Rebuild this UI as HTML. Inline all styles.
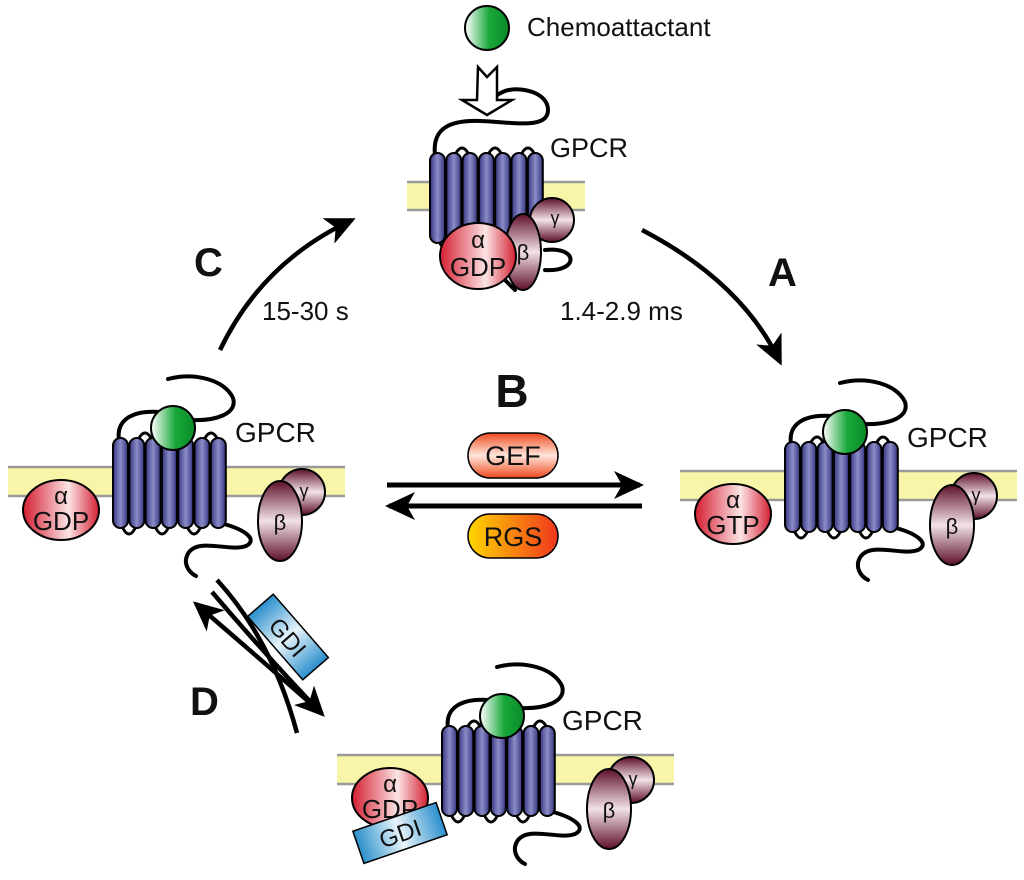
<!DOCTYPE html>
<html><head><meta charset="utf-8"><style>
html,body{margin:0;padding:0;background:#fff;}
svg{display:block;}
text{font-family:"Liberation Sans",Arial,sans-serif;fill:#111;}
</style></head><body>
<svg width="1024" height="880" viewBox="0 0 1024 880" xmlns="http://www.w3.org/2000/svg">
<defs>
<linearGradient id="hx" x1="0" x2="1" y1="0" y2="0"><stop offset="0" stop-color="#34347f"/><stop offset="0.5" stop-color="#8c8cc8"/><stop offset="1" stop-color="#34347f"/></linearGradient>
<linearGradient id="grn" x1="0" x2="1"><stop offset="0" stop-color="#ffffff"/><stop offset="0.55" stop-color="#19a83a"/><stop offset="1" stop-color="#0a8a28"/></linearGradient>
<linearGradient id="alp" x1="0" x2="1"><stop offset="0" stop-color="#d41e32"/><stop offset="0.6" stop-color="#fbe4e4"/><stop offset="1" stop-color="#d41e32"/></linearGradient>
<linearGradient id="bg" x1="0" x2="0" y1="0" y2="1"><stop offset="0" stop-color="#5e0f2a"/><stop offset="0.5" stop-color="#f2e2e6"/><stop offset="1" stop-color="#5e0f2a"/></linearGradient>
<linearGradient id="gef" x1="0" x2="0" y1="0" y2="1"><stop offset="0" stop-color="#ee4a1e"/><stop offset="0.5" stop-color="#ffe6dc"/><stop offset="1" stop-color="#ee4a1e"/></linearGradient>
<linearGradient id="rgs" x1="0" x2="1"><stop offset="0" stop-color="#ffd600"/><stop offset="1" stop-color="#f0361e"/></linearGradient>
<linearGradient id="gdi" x1="0" x2="1"><stop offset="0" stop-color="#2a8fcc"/><stop offset="0.5" stop-color="#e8f4fb"/><stop offset="1" stop-color="#2a8fcc"/></linearGradient>
<marker id="ah" markerWidth="10" markerHeight="10" refX="6" refY="5" orient="auto" markerUnits="userSpaceOnUse" viewBox="0 0 10 10"><path d="M0,0 L10,5 L0,10 L3,5 Z" fill="#000"/></marker>
<marker id="ahb" markerWidth="30" markerHeight="28" refX="26" refY="14" orient="auto" markerUnits="userSpaceOnUse"><path d="M0,0 L30,14 L0,28 L8,14 Z" fill="#000"/></marker>

<g id="helices">
  <g fill="#fff" stroke="#000" stroke-width="3">
    <path d="M137,442 Q145,424 153,442"/>
    <path d="M170,442 Q178,424 186,442"/>
    <path d="M203,442 Q211,424 219,442"/>
    <path d="M121,524 Q129,544 137,524"/>
    <path d="M154,524 Q162,544 170,524"/>
    <path d="M186,524 Q194,544 202,524"/>
  </g>
  <g fill="url(#hx)" stroke="#000" stroke-width="2">
    <rect x="113" y="438" width="15" height="90" rx="7.5"/>
    <rect x="129.3" y="438" width="15" height="90" rx="7.5"/>
    <rect x="145.6" y="438" width="15" height="90" rx="7.5"/>
    <rect x="161.9" y="438" width="15" height="90" rx="7.5"/>
    <rect x="178.2" y="438" width="15" height="90" rx="7.5"/>
    <rect x="194.5" y="438" width="15" height="90" rx="7.5"/>
    <rect x="210.8" y="438" width="15" height="90" rx="7.5"/>
  </g>
</g>

<g id="unit">
  <rect x="8" y="467" width="337" height="29" fill="#f8f4a8"/>
  <line x1="8" y1="467" x2="345" y2="467" stroke="#9a9a9a" stroke-width="2.5"/>
  <line x1="8" y1="496" x2="345" y2="496" stroke="#9a9a9a" stroke-width="2.5"/>
  <g fill="none" stroke="#000" stroke-width="4" stroke-linecap="round">
    <path d="M119,440 C116,420 132,410 160,412"/>
    <path d="M168,379 C195,372 225,380 233,398 C238,414 215,421 192,420"/>
    <path d="M224,524 C246,530 258,540 246,546 C230,552 200,538 189,552 C182,562 188,572 196,576"/>
  </g>
  <use href="#helices"/>
  <circle cx="173" cy="428" r="22" fill="url(#grn)" stroke="#000" stroke-width="2"/>
  <ellipse cx="61" cy="510" rx="38" ry="30" fill="url(#alp)" stroke="#000" stroke-width="2"/>
  <circle cx="302" cy="492" r="23" fill="url(#bg)" stroke="#000" stroke-width="2"/>
  <ellipse cx="280" cy="521" rx="22" ry="40" fill="url(#bg)" stroke="#000" stroke-width="2"/>
</g>
</defs>

<!-- TOP unit -->
<rect x="407" y="182" width="178" height="28" fill="#f8f4a8"/>
<line x1="407" y1="182" x2="585" y2="182" stroke="#9a9a9a" stroke-width="2.5"/>
<line x1="407" y1="210" x2="585" y2="210" stroke="#9a9a9a" stroke-width="2.5"/>
<g fill="none" stroke="#000" stroke-width="4" stroke-linecap="round">
  <path d="M435,155 C432,128 450,120 480,121 C512,122 548,130 548,110 C548,92 520,86 505,91 C495,95 490,100 492,106"/>
  <path d="M545,250 C578,246 580,272 545,270"/>
  <path d="M505,280 L515,290"/>
</g>
<use href="#helices" transform="translate(317,-285)"/>
<circle cx="552" cy="220" r="22" fill="url(#bg)" stroke="#000" stroke-width="2"/>
<ellipse cx="523" cy="252" rx="18" ry="38" fill="url(#bg)" stroke="#000" stroke-width="2"/>
<ellipse cx="478" cy="256" rx="38" ry="33" fill="url(#alp)" stroke="#000" stroke-width="2"/>
<text x="478" y="248" font-size="24" text-anchor="middle">α</text>
<text x="478" y="276" font-size="26" text-anchor="middle">GDP</text>
<text x="523" y="260" font-size="22" text-anchor="middle">β</text>
<text x="555" y="224" font-size="18" text-anchor="middle">γ</text>
<text x="550" y="157" font-size="27">GPCR</text>
<!-- open arrow -->
<path d="M478,67 L487,77 L497,67 L497,100 L512,100 L487,115 L462,100 L477,100 Z" fill="#fff" stroke="#000" stroke-width="2.5"/>
<circle cx="487" cy="28" r="22" fill="url(#grn)" stroke="#000" stroke-width="2"/>
<text x="527" y="36" font-size="26">Chemoattactant</text>

<!-- LEFT unit -->
<use href="#unit"/>
<text x="61" y="504" font-size="24" text-anchor="middle">α</text>
<text x="61" y="530" font-size="26" text-anchor="middle">GDP</text>
<text x="280" y="530" font-size="22" text-anchor="middle">β</text>
<text x="304" y="497" font-size="18" text-anchor="middle">γ</text>
<text x="235" y="442" font-size="28">GPCR</text>

<!-- RIGHT unit -->
<use href="#unit" transform="translate(672,4)"/>
<text x="733" y="508" font-size="24" text-anchor="middle">α</text>
<text x="733" y="534" font-size="26" text-anchor="middle">GTP</text>
<text x="952" y="534" font-size="22" text-anchor="middle">β</text>
<text x="976" y="501" font-size="18" text-anchor="middle">γ</text>
<text x="907" y="447" font-size="28">GPCR</text>

<!-- BOTTOM unit -->
<use href="#unit" transform="translate(329,288)"/>
<text x="390" y="792" font-size="24" text-anchor="middle">α</text>
<text x="390" y="818" font-size="26" text-anchor="middle">GDP</text>
<g transform="translate(400,833) rotate(-19)">
  <rect x="-44" y="-17" width="88" height="34" fill="url(#gdi)" stroke="#000" stroke-width="1.5"/>
  <text x="0" y="9" font-size="24" text-anchor="middle">GDI</text>
</g>
<text x="609" y="818" font-size="22" text-anchor="middle">β</text>
<text x="633" y="785" font-size="18" text-anchor="middle">γ</text>
<text x="562" y="730" font-size="28">GPCR</text>

<!-- C arrow -->
<path d="M220,350 Q262,262 352,220" fill="none" stroke="#000" stroke-width="4.5" marker-end="url(#ahb)"/>
<text x="194" y="276" font-size="40" font-weight="bold">C</text>
<text x="262" y="320" font-size="26">15-30 s</text>

<!-- A arrow -->
<path d="M642,230 Q742,282 780,362" fill="none" stroke="#000" stroke-width="4.5" marker-end="url(#ahb)"/>
<text x="768" y="286" font-size="40" font-weight="bold">A</text>
<text x="560" y="320" font-size="26">1.4-2.9 ms</text>

<!-- B -->
<text x="512" y="407" font-size="46" font-weight="bold" text-anchor="middle">B</text>
<rect x="468" y="433" width="90" height="45" rx="22.5" fill="url(#gef)" stroke="#000" stroke-width="1.5"/>
<text x="513" y="465" font-size="27" text-anchor="middle">GEF</text>
<line x1="387" y1="485" x2="640" y2="485" stroke="#000" stroke-width="5" marker-end="url(#ahb)"/>
<line x1="642" y1="506" x2="389" y2="506" stroke="#000" stroke-width="5" marker-end="url(#ahb)"/>
<rect x="468" y="514" width="90" height="44" rx="22" fill="url(#rgs)" stroke="#000" stroke-width="1.5"/>
<text x="513" y="546" font-size="27" text-anchor="middle">RGS</text>

<!-- D arrows -->
<path d="M217,580 Q272,640 297,733" fill="none" stroke="#000" stroke-width="4.5"/>
<path d="M318,710 Q250,650 196,604" fill="none" stroke="#000" stroke-width="4.5" marker-end="url(#ahb)"/>
<path d="M212,592 Q270,660 322,714" fill="none" stroke="#000" stroke-width="4.5" marker-end="url(#ahb)"/>
<g transform="translate(288,637) rotate(49)">
  <rect x="-42" y="-17" width="84" height="34" fill="url(#gdi)" stroke="#000" stroke-width="1.5"/>
  <text x="0" y="9" font-size="24" text-anchor="middle">GDI</text>
</g>
<text x="190" y="715" font-size="40" font-weight="bold">D</text>
</svg>
</body></html>
